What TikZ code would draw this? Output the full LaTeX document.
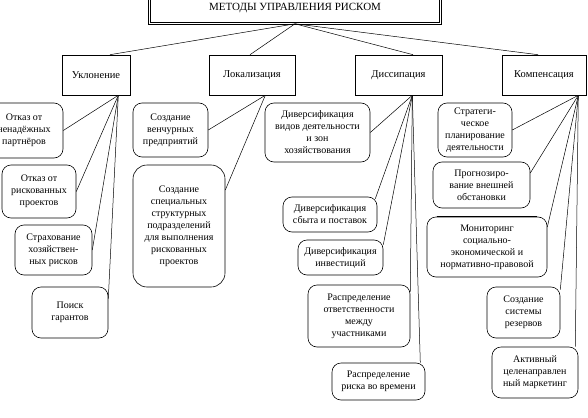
\documentclass[tikz,border=0pt]{standalone}
\usepackage{fontspec}
\setmainfont{Liberation Serif}
\begin{document}
\begin{tikzpicture}[x=1pt,y=-1pt,
  every node/.style={font=\fontsize{10}{12}\selectfont, align=center, inner sep=1pt},
  cat/.style={draw, line width=0.6pt, minimum height=40pt, font=\fontsize{10.5}{12}\selectfont},
  leaf/.style={draw, line width=0.6pt, rounded corners=9pt},
  conn/.style={line width=0.5pt}]
\useasboundingbox (0,0) rectangle (588,417);
\clip (0,0) rectangle (588,417);
\fill[white] (0,0) rectangle (588,417);

% title
\node[draw, double, double distance=1.6pt, line width=0.6pt, minimum width=291pt, minimum height=30pt, font=\fontsize{11}{13}\selectfont] (top) at (295,8.5) {МЕТОДЫ УПРАВЛЕНИЯ РИСКОМ};

% categories
\node[cat, minimum width=68pt] (ukl) at (96,75) {Уклонение};
\node[cat, minimum width=86pt] (lok) at (252,75) {Локализация};
\node[cat, minimum width=87pt] (dis) at (398.5,75) {Диссипация};
\node[cat, minimum width=84pt] (kom) at (544,75) {Компенсация};

% Уклонение
\node[leaf, minimum width=78pt, minimum height=55pt] (u1) at (24,130.5) {Отказ от\\ненадёжных\\партнёров};
\node[leaf, minimum width=74pt, minimum height=53pt] (u2) at (39,191.5) {Отказ от\\рискованных\\проектов};
\node[leaf, minimum width=77pt, minimum height=50pt] (u3) at (53.5,250) {Страхование\\хозяйствен-\\ных рисков};
\node[leaf, minimum width=76pt, minimum height=51pt] (u4) at (70,312.5) {Поиск\\гарантов};

% Локализация
\node[leaf, minimum width=75pt, minimum height=54pt] (l1) at (170.5,130) {Создание\\венчурных\\предприятий};
\node[leaf, rounded corners=14pt, minimum width=92pt, minimum height=122pt] (l2) at (179,226) {Создание\\специальных\\структурных\\подразделений\\для выполнения\\рискованных\\проектов};

% Диссипация
\node[leaf, minimum width=105pt, minimum height=59pt] (d1) at (317.5,132.5) {Диверсификация\\видов деятельности\\и зон\\хозяйствования};
\node[leaf, minimum width=94pt, minimum height=35pt] (d2) at (330,214.5) {Диверсификация\\сбыта и поставок};
\node[leaf, minimum width=85pt, minimum height=35pt] (d3) at (340.5,257.5) {Диверсификация\\инвестиций};
\node[leaf, minimum width=102pt, minimum height=62pt] (d4) at (359,316) {Распределение\\ответственности\\между\\участниками};
\node[leaf, minimum width=93pt, minimum height=37pt] (d5) at (378.5,381.5) {Распределение\\риска во времени};

% Компенсация
\node[leaf, minimum width=74pt, minimum height=54pt] (k1) at (475,130) {Стратеги-\\ческое\\планирование\\деятельности};
\node[leaf, minimum width=97pt, minimum height=46pt] (k2) at (481.5,185) {Прогнозиро-\\вание внешней\\обстановки};
\node[leaf, minimum width=120pt, minimum height=60pt] (k3) at (487,247) {Мониторинг\\социально-\\экономической и\\нормативно-правовой};
\node[leaf, minimum width=73pt, minimum height=51pt] (k4) at (523.5,312.5) {Создание\\системы\\резервов};
\node[leaf, minimum width=86pt, minimum height=51pt] (k5) at (535,372.5) {Активный\\целенаправлен\\ный маркетинг};
\draw[line width=1.3pt] ([xshift=10pt]k3.north west) -- ([xshift=-10pt]k3.north east);

% connector origins
\coordinate (uo) at ([xshift=-12pt]ukl.south east);
\coordinate (lo) at ([xshift=-30pt]lok.south east);
\coordinate (do) at ([xshift=-30pt]dis.south east);
\coordinate (ko) at ([xshift=-8pt]kom.south east);

% title connectors
\draw[conn] (top.south) -- ([xshift=14pt]ukl.north);
\draw[conn] (top.south) -- ([xshift=-2pt]lok.north);
\draw[conn] (top.south) -- ([xshift=14.5pt]dis.north);
\draw[conn] (top.south) -- ([xshift=-6pt]kom.north);

% Уклонение connectors
\draw[conn] (uo) -- (u1.east);
\draw[conn] (uo) -- (u2.east);
\draw[conn] (uo) -- (u3.east);
\draw[conn] (uo) -- ([yshift=14pt]u4.east);

% Локализация connectors
\draw[conn] (lo) -- (l1.east);
\draw[conn] (lo) -- ([yshift=36pt]l2.east);

% Диссипация connectors
\draw[conn] (do) -- (d1.east);
\draw[conn] (do) -- ([xshift=-2pt,yshift=-2pt]d2.north east);
\draw[conn] (do) -- ([yshift=-5pt]d3.north east);
\draw[conn] (do) -- ([yshift=-7pt]d4.north east);
\draw[conn] (do) -- ([xshift=-5pt]d5.north east);

% Компенсация connectors
\draw[conn] (ko) -- (k1.east);
\draw[conn] (ko) -- ([yshift=12pt]k2.east);
\draw[conn] (ko) -- ([yshift=20pt]k3.east);
\draw[conn] (ko) -- ([yshift=-3pt]k4.north east);
\draw[conn] (ko) -- ([xshift=-3pt]k5.north east);
\end{tikzpicture}
\end{document}
